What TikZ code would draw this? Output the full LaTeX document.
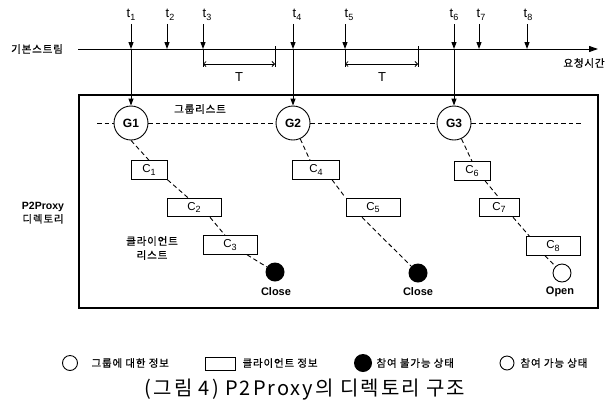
\documentclass[tikz,border=0pt]{standalone}
\usepackage{fontspec}
\setmainfont{Liberation Sans}
\newfontfamily\kr[LetterSpace=8, FakeBold=0.6]{Noto Sans CJK KR}
\newfontfamily\krcap[LetterSpace=10]{Noto Sans CJK KR}
\newcommand{\lowidx}[1]{\raisebox{-2.5pt}{\fontsize{9}{9}\selectfont #1}}
\usetikzlibrary{arrows.meta, positioning, calc}

\begin{document}
\begin{tikzpicture}[
        x=1pt, y=-1pt,
        font=\fontsize{11.5}{13}\selectfont,
        every node/.style={align=center},
        grp/.style={circle, draw, line width=0.9pt, fill=white,
                    minimum size=34pt, inner sep=0pt,
                    font=\bfseries\fontsize{12}{13}\selectfont},
        cli/.style={rectangle, draw, line width=1pt, fill=white,
                    minimum height=18.5pt, inner sep=0pt},
        closed/.style={circle, fill=black, minimum size=19pt, inner sep=0pt},
        opened/.style={circle, draw, line width=0.9pt, fill=white,
                       minimum size=18pt, inner sep=0pt},
        state/.style={font=\bfseries\fontsize{11}{12}\selectfont},
        tlbl/.style={font=\fontsize{13}{13}\selectfont},
        krlbl/.style={font=\kr\fontsize{10.5}{14}\selectfont},
        arrow/.style={-{Triangle[length=7pt, width=5pt]}, line width=1pt},
        link/.style={dash pattern=on 4.5pt off 3pt, line width=0.9pt},
        dimline/.style={{Straight Barb[length=2.5pt, width=5pt]}-{Straight Barb[length=2.5pt, width=5pt]},
                        line width=0.8pt}
    ]
        \useasboundingbox (0,0) rectangle (607,405);

        % Time axis: basic stream and request times
        \node[krlbl] (base) at (37,49) {기본스트림};
        \node[krlbl] (req) at (584,63) {요청시간};
        \coordinate (s0) at (78,49);
        \coordinate (s1) at (598,49);
        \draw[-{Triangle[length=9pt, width=6pt]}, line width=1pt] (s0) -- (s1);

        \foreach \i/\lx/\px in {1/131/131, 2/170/167, 3/207/203, 4/297/293,
                                5/349/345, 6/454/454, 7/481/479, 8/528/527} {
            \node[tlbl] (t\i) at (\lx,15) {t\lowidx{\i}};
            \coordinate (p\i) at (\px,49);
            \draw[arrow] (t\i.south -| p\i) -- (p\i);
        }

        % Waiting interval T after t3 and t5
        \coordinate (a3) at (203,64);
        \coordinate (b3) at (275,64);
        \coordinate (a5) at (345,64);
        \coordinate (b5) at (418,64);
        \draw[line width=0.8pt] (p3) -- (203,67) (275,46) -- (275,67);
        \draw[line width=0.8pt] (p5) -- (345,67) (418,46) -- (418,67);
        \draw[dimline] (a3) -- (b3);
        \draw[dimline] (a5) -- (b5);
        \node[tlbl] (T3) at (239,77) {T};
        \node[tlbl] (T5) at (382,77) {T};

        % P2Proxy directory
        \node[draw, line width=1.1pt, minimum width=519pt, minimum height=213pt,
              inner sep=0pt] (dir) at (338.5,201.5) {};
        \node[font=\bfseries\fontsize{10.5}{13}\selectfont] (dirlbl) at (43,213)
            {P2Proxy\\{\kr\mdseries 디렉토리}};
        \node[krlbl] (glbl) at (200,109) {그룹리스트};
        \node[krlbl] (clbl) at (152,248) {클라이언트\\리스트};

        % Group list
        \coordinate (gl0) at (97,123);
        \coordinate (gl1) at (582,123);
        \node[grp] (G1) at (131,123) {G1};
        \node[grp] (G2) at (293,123) {G2};
        \node[grp] (G3) at (454,123) {G3};

        % Client lists
        \node[cli, minimum width=36pt] (C1) at (149,170) {C\lowidx{1}};
        \node[cli, minimum width=54pt] (C2) at (194,207.5) {C\lowidx{2}};
        \node[cli, minimum width=54pt] (C3) at (230,245) {C\lowidx{3}};
        \node[cli, minimum width=47pt] (C4) at (316,170) {C\lowidx{4}};
        \node[cli, minimum width=54pt] (C5) at (373,207.5) {C\lowidx{5}};
        \node[cli, minimum width=36pt] (C6) at (472,171) {C\lowidx{6}};
        \node[cli, minimum width=40pt] (C7) at (499,207.5) {C\lowidx{7}};
        \node[cli, minimum width=54pt] (C8) at (553,246) {C\lowidx{8}};

        \node[closed] (X1) at (275,272) {};
        \node[closed] (X2) at (418,273) {};
        \node[opened] (X3) at (562,273) {};
        \node[state] (X1lbl) at (276,292) {Close};
        \node[state] (X2lbl) at (418,292) {Close};
        \node[state] (X3lbl) at (560,292) {Open};

        % --- Arrows into the directory ---
        \draw[arrow] (p1) -- (G1.north);
        \draw[arrow] (p4) -- (G2.north);
        \draw[arrow] (p6) -- (G3.north);

        % --- Dashed links ---
        \draw[link] (gl0) -- (G1) (G1) -- (G2) (G2) -- (G3) (G3) -- (gl1);
        \draw[link] (G1.south) -- (C1.north);
        \draw[link] (C1.south east) -- ([xshift=-6pt]C2.north);
        \draw[link] ([xshift=16pt]C2.south) -- ([xshift=-5pt]C3.north);
        \draw[link] ([xshift=17pt]C3.south) -- (X1);
        \draw[link] (G2) -- ([xshift=-6pt]C4.north);
        \draw[link] ([xshift=16pt]C4.south) -- (C5.north west);
        \draw[link] ([xshift=-11pt]C5.south) -- (X2);
        \draw[link] (G3) -- (C6.north);
        \draw[link] ([xshift=13pt]C6.south) -- (C7.north);
        \draw[link] ([xshift=14pt]C7.south) -- ([xshift=4pt]C8.north west);
        \draw[link] ([xshift=-8pt]C8.south) -- (X3);

        % Legend
        \node[opened, minimum size=15pt] (lg1) at (70,363) {};
        \node[krlbl, anchor=west] (lg1t) at (88,363) {그룹에 대한 정보};
        \node[cli, line width=0.8pt, minimum width=30pt, minimum height=13pt] (lg2) at (220,363.5) {};
        \node[krlbl, anchor=west] (lg2t) at (239,363) {클라이언트 정보};
        \node[closed, minimum size=18pt] (lg3) at (363,363) {};
        \node[krlbl, anchor=west] (lg3t) at (373,363) {참여 불가능 상태};
        \node[opened, minimum size=14pt] (lg4) at (507,363) {};
        \node[krlbl, anchor=west] (lg4t) at (517,363) {참여 가능 상태};

        % Caption
        \node[font=\krcap\fontsize{20}{22}\selectfont] (cap) at (305,390)
            {(그림 4) P2Proxy의 디렉토리 구조};
    \end{tikzpicture}
\end{document}
